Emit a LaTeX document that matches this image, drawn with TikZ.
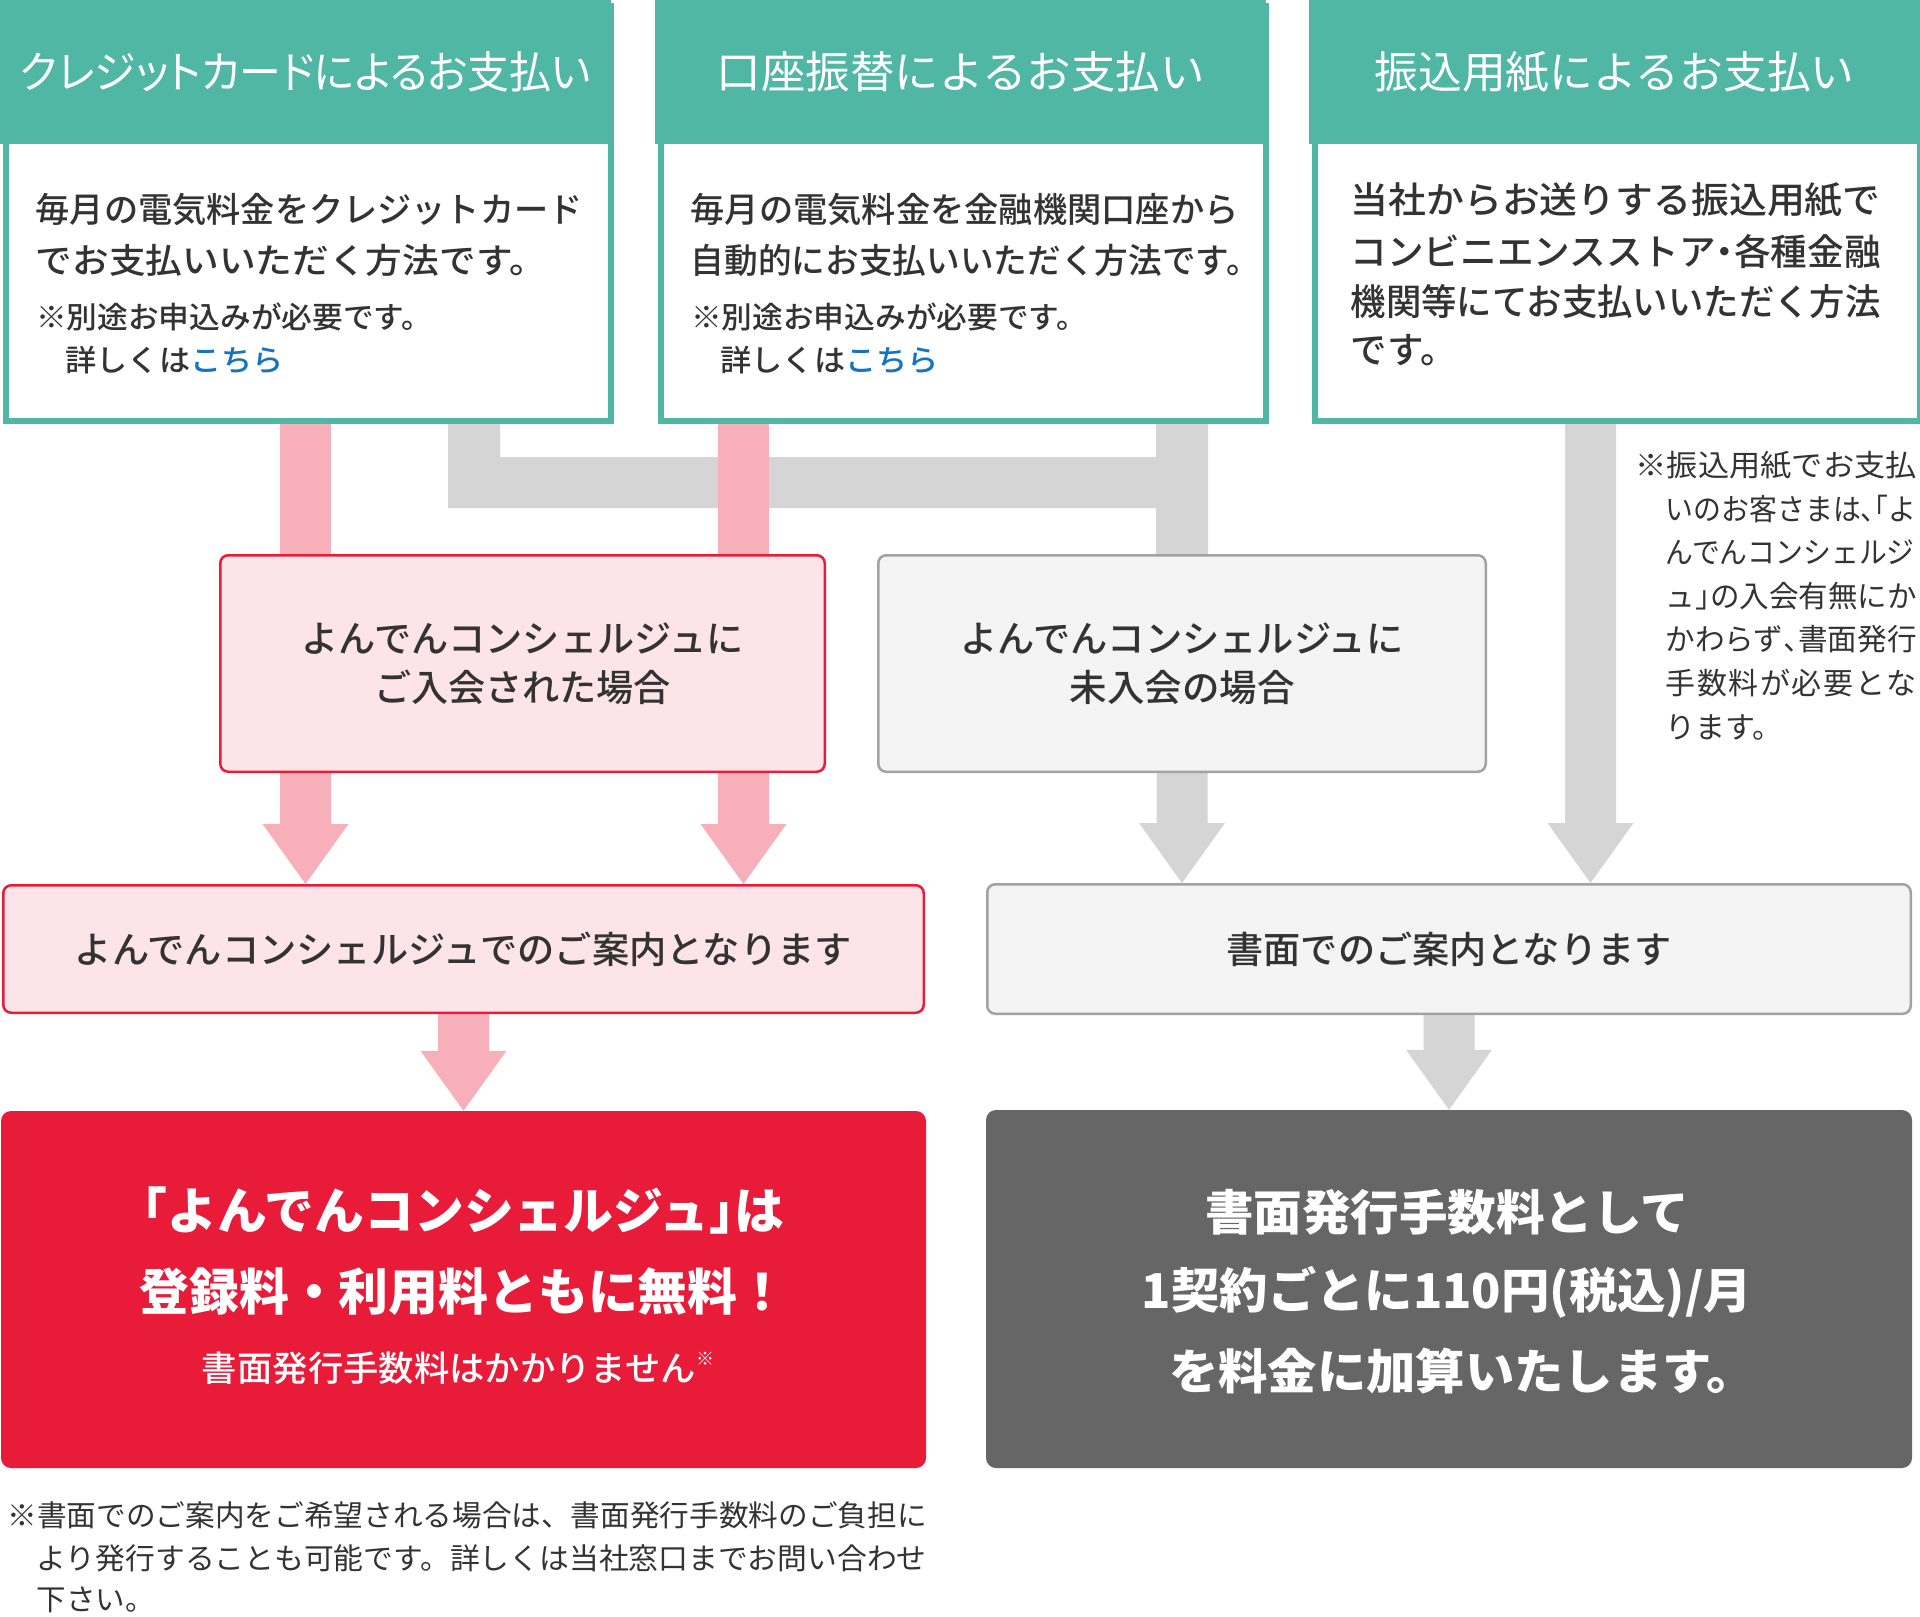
\documentclass[tikz,border=0pt]{standalone}
\usepackage{fontspec}
\usepackage{graphicx}
\setmainfont{Noto Sans CJK JP}
\newfontfamily\jppalt{Noto Sans CJK JP}[RawFeature=+palt]
\newfontfamily\jpmed{Noto Sans CJK JP Medium}
\usetikzlibrary{calc}
\definecolor{tealc}{RGB}{80,183,165}
\definecolor{pinkA}{RGB}{247,176,186}
\definecolor{grayA}{RGB}{213,213,213}
\definecolor{pinkbg}{RGB}{253,228,233}
\definecolor{redc}{RGB}{232,27,57}
\definecolor{graybg}{RGB}{244,244,244}
\definecolor{grayline}{RGB}{162,162,162}
\definecolor{darkc}{RGB}{102,102,102}
\definecolor{txt}{RGB}{51,51,51}
\definecolor{linkc}{RGB}{20,115,195}
\pgfdeclarelayer{bg}
\pgfsetlayers{bg,main}
\newcommand{\fitx}[2]{\resizebox{#1pt}{\height}{#2}}
\newcommand{\fs}[1]{\fontsize{#1pt}{#1pt}\selectfont}
\newcommand{\hw}[1]{\makebox[0.5em][l]{#1}}
\newcommand{\hwo}[1]{\makebox[0.5em][r]{#1}}
\newcommand{\hwc}[1]{\makebox[0.5em][c]{#1}}
% block arrow: colour, x-coordinate, start anchor, tip anchor
\newcommand{\blockdown}[4]{%
  \fill[#1] let \p1=(#2 |- #3), \p2=(#2 |- #4) in
    (\x1-25.5pt,\y1) -- (\x1+25.5pt,\y1) -- (\x1+25.5pt,\y2+60pt) --
    (\x1+43pt,\y2+60pt) -- (\x1,\y2) -- (\x1-43pt,\y2+60pt) --
    (\x1-25.5pt,\y2+60pt) -- cycle;}
\newcommand{\blockbar}[4]{%
  \fill[#1] let \p1=(#2 |- #3), \p2=(#2 |- #4) in
    (\x1-25.5pt,\y1) rectangle (\x1+25.5pt,\y2);}
\tikzset{
  topbox/.style={draw=tealc, line width=6pt, fill=white, minimum width=605pt,
    minimum height=415pt, anchor=north west, inner sep=0pt},
  header/.style={fill=tealc, minimum width=611pt, minimum height=144pt,
    anchor=north west, text=white, font=\fs{44}, inner sep=0pt},
  bodytxt/.style={anchor=west, text=txt, font=\jpmed\fs{34.5}, inner sep=0pt},
  bodytxtb/.style={anchor=west, text=txt, font=\jpmed\fs{36.5}, inner sep=0pt},
  boxnote/.style={anchor=west, text=txt, font=\jpmed\fs{30}, inner sep=0pt},
  notetxt/.style={anchor=west, text=txt, font=\fs{30}, inner sep=0pt},
  foottxt/.style={anchor=west, text=txt, font=\fs{29.5}, inner sep=0pt},
  pinkbox/.style={draw=redc, line width=2.5pt, fill=pinkbg, rounded corners=8pt,
    text=txt, align=center, font=\jpmed\fontsize{37pt}{49pt}\selectfont, inner sep=0pt},
  graybox/.style={draw=grayline, line width=2.5pt, fill=graybg, rounded corners=8pt,
    text=txt, align=center, font=\jpmed\fontsize{37pt}{49pt}\selectfont, inner sep=0pt},
  redbox/.style={fill=redc, rounded corners=10pt, inner sep=0pt},
  darkbox/.style={fill=darkc, rounded corners=10pt, inner sep=0pt},
  bigw/.style={text=white, font=\bfseries\fs{50}, inner sep=0pt},
  darkw/.style={text=white, font=\bfseries\fs{48}, inner sep=0pt},
  smallw/.style={text=white, font=\jpmed\fs{35}, inner sep=0pt}
}
\begin{document}
\begin{tikzpicture}[x=1pt,y=-1pt]
\useasboundingbox (0,0) rectangle (1920,1617);
% ---------- top boxes ----------
\node[topbox] (b1) at (3,3) {};
\node[topbox] (b2) at (658,3) {};
\node[topbox] (b3) at (1312,3) {};
\node[header] (h1) at (0,0) {\fitx{571}{\jppalt クレジットカードによるお支払い}};
\node[header] (h2) at (655,0) {\fitx{488}{口座振替によるお支払い}};
\node[header] (h3) at (1309,0) {\fitx{480}{振込用紙によるお支払い}};
\node[bodytxt] (t11) at (35.5,210) {\fitx{547}{毎月の電気料金をクレジットカード}};
\node[bodytxt] (t12) at (35.5,260) {\fitx{510}{でお支払いいただく方法です。}};
\node[boxnote] (t13) at (36,317) {\fitx{396}{※別途お申込みが必要です。}};
\node[boxnote] (t14) at (65.5,360) {\fitx{218}{詳しくは\textcolor{linkc}{こちら}}};
\node[bodytxt] (t21) at (690.5,210) {\fitx{548}{毎月の電気料金を金融機関口座から}};
\node[bodytxt] (t22) at (690.5,260) {\fitx{569}{自動的にお支払いいただく方法です。}};
\node[boxnote] (t23) at (691,317) {\fitx{396}{※別途お申込みが必要です。}};
\node[boxnote] (t24) at (720.5,360) {\fitx{218}{詳しくは\textcolor{linkc}{こちら}}};
\node[bodytxtb] (t31) at (1350.5,200) {\fitx{530}{当社からお送りする振込用紙で}};
\node[bodytxtb] (t32) at (1350.5,252) {\fitx{530}{コンビニエンスストア\hwc{・}各種金融}};
\node[bodytxtb] (t33) at (1350.5,302) {\fitx{530}{機関等にてお支払いいただく方法}};
\node[bodytxtb] (t34) at (1350.5,350) {です。};
% side note
\node[notetxt] (n1) at (1635.5,465) {\fitx{281}{※振込用紙でお支払}};
\node[notetxt] (n2) at (1665.5,509) {\fitx{251}{いのお客さまは\hw{、}\hwo{「}よ}};
\node[notetxt] (n3) at (1665.5,552) {\fitx{249}{んでんコンシェルジ}};
\node[notetxt] (n4) at (1665.5,596) {\fitx{251}{ュ\hw{」}の入会有無にか}};
\node[notetxt] (n5) at (1665.5,639) {\fitx{251}{かわらず\hw{、}書面発行}};
\node[notetxt] (n6) at (1665.5,683) {\makebox[251pt][s]{手\hfill{}数\hfill{}料\hfill{}が\hfill{}必\hfill{}要\hfill{}と\hfill{}な}};
\node[notetxt] (n7) at (1665.5,727) {ります。};
% ---------- middle ----------
\node[pinkbox, minimum width=604.5pt, minimum height=216.5pt] (pb) at (522.5,663.5)
  {\fitx{442}{よんでんコンシェルジュに}\\\fitx{297}{ご入会された場合}};
\node[graybox, minimum width=607.5pt, minimum height=216.5pt] (gb) at (1182,663.5)
  {\fitx{443}{よんでんコンシェルジュに}\\\fitx{225}{未入会の場合}};
\node[pinkbox, minimum width=920.5pt, minimum height=127.5pt] (pc) at (463.5,949)
  {\fitx{777}{よんでんコンシェルジュでのご案内となります}};
\node[graybox, minimum width=923.5pt, minimum height=129.5pt] (gc) at (1449,949)
  {\fitx{445}{書面でのご案内となります}};
% ---------- bottom ----------
\node[redbox, minimum width=925pt, minimum height=357pt] (rb) at (463.5,1289.5) {};
\node[bigw] (r1) at (463.5,1210) {\fitx{642}{\hwo{「}よんでんコンシェルジュ\hw{」}は}};
\node[bigw] (r2) at (463.5,1292) {\fitx{648}{登録料・利用料ともに無料！}};
\node[smallw] (r3) at (458,1368) {\fitx{494}{書面発行手数料はかかりません}\raisebox{0.45em}{\fs{18}※}};
\node[darkbox, minimum width=926pt, minimum height=358pt] (db) at (1449,1289) {};
\node[darkw] (d1) at (1447,1212) {\fitx{484}{書面発行手数料として}};
\node[darkw] (d2) at (1447,1292) {\fitx{610}{1契約ごとに110円(税込)/月}};
\node[darkw, anchor=west] (d3) at (1169,1371) {\fitx{587}{を料金に加算いたします。}};
% footnote
\node[foottxt] (f1) at (7.5,1515) {\fitx{919}{※書面でのご案内をご希望される場合は、書面発行手数料のご負担に}};
\node[foottxt] (f2) at (36.5,1558) {\fitx{890}{より発行することも可能です。詳しくは当社窓口までお問い合わせ}};
\node[foottxt] (f3) at (36.5,1600) {下さい。};
% ---------- connectors ----------
\coordinate (xa) at (305.5,0);
\coordinate (xb) at (743.5,0);
\coordinate (xg) at (474,0);
\coordinate (xc) at (1182,0);
\coordinate (xd) at (1590.5,0);
\coordinate (xe) at (463.5,0);
\coordinate (xf) at (1449,0);
\coordinate (yh) at (0,482.5);
\begin{pgfonlayer}{bg}
\fill[white] (0,0) rectangle (1920,1617);
\fill[grayA] let \p1=(xg |- b1.south), \p2=(xc |- gb.north), \p3=(xg |- yh) in
  (\x1-26pt,\y1) -- (\x1+26pt,\y1) -- (\x1+26pt,\y3+25.5pt) --
  (\x2-26pt,\y3+25.5pt) -- (\x2-26pt,\y1) -- (\x2+26pt,\y1) --
  (\x2+26pt,\y2) -- (\x2-26pt,\y2) -- (\x2-26pt,\y3-25.5pt) --
  (\x1-26pt,\y3-25.5pt) -- cycle;
\blockbar{pinkA}{xa}{b1.south}{pb.north}
\blockbar{pinkA}{xb}{b2.south}{pb.north}
\blockdown{pinkA}{xa}{pb.south}{pc.north}
\blockdown{pinkA}{xb}{pb.south}{pc.north}
\blockdown{grayA}{xc}{gb.south}{gc.north}
\blockdown{grayA}{xd}{b3.south}{gc.north}
\blockdown{pinkA}{xe}{pc.south}{rb.north}
\blockdown{grayA}{xf}{gc.south}{db.north}
\end{pgfonlayer}
\end{tikzpicture}
\end{document}
